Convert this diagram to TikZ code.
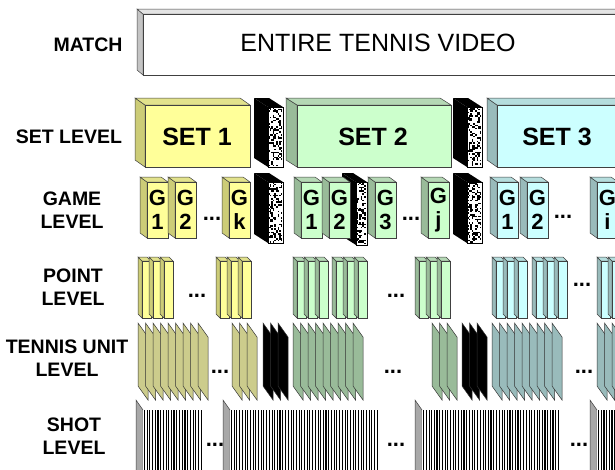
\documentclass[tikz,border=0pt]{standalone}
\usepackage{fontspec}
\setmainfont{Liberation Sans}
\usepackage{tikz}

\definecolor{yelF}{HTML}{FFFF99}
\definecolor{yelS}{HTML}{CCCC77}
\definecolor{yelT}{HTML}{E2E28C}
\definecolor{grnF}{HTML}{CCFFCC}
\definecolor{grnS}{HTML}{99BB99}
\definecolor{grnT}{HTML}{B5D8B5}
\definecolor{cyaF}{HTML}{CCFFFF}
\definecolor{cyaS}{HTML}{99BBBB}
\definecolor{cyaT}{HTML}{B5DDDD}
\definecolor{whtF}{HTML}{FFFFFF}
\definecolor{whtS}{HTML}{C4C4C4}
\definecolor{whtT}{HTML}{E4E4E4}
\definecolor{unitY}{HTML}{CCCC8C}
\definecolor{unitG}{HTML}{99BB99}
\definecolor{unitC}{HTML}{99BBBB}
\definecolor{shotS}{HTML}{A8A8A8}

\tikzstyle{edge}   = [draw=black!75, line width=0.5pt]
\tikzstyle{lvl}    = [font=\bfseries\fontsize{19.5}{23}\selectfont, align=center]
\tikzstyle{gtxt}   = [font=\bfseries\fontsize{22}{24}\selectfont, align=center, inner sep=0pt]
\tikzstyle{settxt} = [font=\bfseries\fontsize{25}{28}\selectfont]
\tikzstyle{dotsep} = [font=\bfseries\fontsize{22}{22}\selectfont, inner sep=0pt]

%% 3-D block: front x, front top, width, bottom, depth x, depth y, colour prefix
\newcommand{\tvblock}[7]{%
  \filldraw[edge, fill=#7S] (#1,#2) -- ++(#5,#6) -- ({#1+#5},{#4+#6}) -- (#1,#4) -- cycle;
  \filldraw[edge, fill=#7T] (#1,#2) -- ++(#5,#6) -- ({#1+#3+#5},{#2+#6}) -- ({#1+#3},#2) -- cycle;
  \filldraw[edge, fill=#7F] (#1,#2) rectangle ({#1+#3},#4);
}
%% black cut between sets: front x, front top, width, bottom
\newcommand{\tvcut}[4]{%
  \fill[black] (#1,#2) -- ++(-14,-9) -- ({#1-14},{#4-9}) -- (#1,#4) -- cycle;
  \fill[black] (#1,#2) -- ++(-14,-9) -- ({#1+#3-14},{#2-9}) -- ({#1+#3},#2) -- cycle;
  \fill[white] (#1,#2) rectangle ({#1+#3},#4);
  \pgfmathtruncatemacro\nr{(#4-#2)/1.6-1}
  \pgfmathtruncatemacro\nc{#3/1.6-1}
  \foreach \r in {0,...,\nr}{
    \foreach \c in {0,...,\nc}{
      \pgfmathsetmacro\sp{rnd}
      \ifdim\sp pt>0.62pt
        \fill[black] ({#1+1.6*\c},{#2+1.6*\r}) rectangle ++(1.6,1.6);
      \fi
    }}
  \draw[black, line width=0.6pt] (#1,#2) rectangle ({#1+#3},#4);
}
%% three point blocks
\newcommand{\tvpoints}[2]{%
  \foreach \k in {0,1,2}{
    \pgfmathsetmacro\px{#1+11*\k}
    \tvblock{\px}{261}{9}{318}{-4}{-4}{#2}
  }}
%% tennis unit sheets: first x, count, colour
\newcommand{\tvunits}[3]{%
  \foreach \k in {1,...,#2}{
    \pgfmathsetmacro\ux{#1+7.5*(\k-1)}
    \filldraw[fill=#3, draw=black!80, line width=0.5pt]
      (\ux,323) -- ++(10,14) -- ++(0,63) -- ++(-10,-14) -- cycle;
  }}
%% shot strip: front x start, front x end
\newcommand{\tvshots}[2]{%
  \filldraw[edge, fill=shotS] (#1,410) -- ++(-7,-10) -- ++(0,80) -- ++(7,10) -- cycle;
  \fill[white] (#1,410) rectangle (#2,480);
  \pgfmathtruncatemacro\nb{(#2-#1)/2.7}
  \foreach \k in {1,...,\nb}{
    \pgfmathsetmacro\bx{#1+2.7*\k-1.2}
    \pgfmathsetmacro\bw{0.45+rnd*1.0}
    \draw[black, line width=\bw pt] (\bx,410) -- (\bx,480);
  }}

\begin{document}
\begin{tikzpicture}[x=1pt, y=-1pt]
  \useasboundingbox (0,0) rectangle (615,469);
  \clip (0,0) rectangle (615,469);
  \pgfmathsetseed{11}

  %% Level names
  \node[lvl] (lmatch) at (88,45) {MATCH};
  \node[lvl] (lset)   at (69,137) {SET LEVEL};
  \node[lvl] (lgame)  at (72,210) {GAME\\LEVEL};
  \node[lvl] (lpoint) at (73,287) {POINT\\LEVEL};
  \node[lvl] (lunit)  at (67,358) {TENNIS UNIT\\LEVEL};
  \node[lvl] (lshot)  at (74,436) {SHOT\\LEVEL};

  %% Match
  \tvblock{143}{14}{490}{75}{-6}{-5}{wht}
  \node[font=\fontsize{25}{28}\selectfont] (video) at (378,43) {ENTIRE TENNIS VIDEO};

  %% Sets
  \tvcut{268}{107}{15}{167}
  \tvcut{467}{107}{15}{167}
  \tvblock{145}{105}{105}{167}{-10}{-7}{yel}
  \tvblock{297}{105}{154}{167}{-11}{-7}{grn}
  \tvblock{497}{105}{140}{167}{-10}{-7}{cya}
  \node[settxt] (set1) at (197,137) {SET 1};
  \node[settxt] (set2) at (373,137) {SET 2};
  \node[settxt] (set3) at (557,137) {SET 3};

  %% Games
  \tvcut{268}{182}{15}{243}
  \tvcut{356}{182}{11}{245}
  \tvcut{467}{182}{15}{243}
  \foreach \gx/\col/\gn in {147/yel/1, 175/yel/2, 229/yel/k,
                             301/grn/1, 329/grn/2, 375/grn/3, 428/grn/j,
                             497/cya/1, 527/cya/2, 597/cya/i}{
    \tvblock{\gx}{182}{21}{238}{-7}{-5}{\col}
    \node[gtxt] (g\col\gn) at (\gx+10.5,210) {G\\\gn};
  }
  \node[dotsep] (dgame1) at (212,219) {...};
  \node[dotsep] (dgame2) at (411,219) {...};
  \node[dotsep] (dgame3) at (563,217) {...};

  %% Points
  \tvpoints{142}{yel}
  \tvpoints{220}{yel}
  \tvpoints{297}{grn}
  \tvpoints{336}{grn}
  \tvpoints{419}{grn}
  \tvpoints{496}{cya}
  \tvpoints{536}{cya}
  \tvpoints{601}{cya}
  \node[dotsep] (dpoint1) at (197,296) {...};
  \node[dotsep] (dpoint2) at (396,296) {...};
  \node[dotsep] (dpoint3) at (582,285) {...};

  %% Tennis units
  \tvunits{138}{9}{unitY}
  \tvunits{232}{3}{unitY}
  \tvunits{263}{3}{black}
  \tvunits{293}{9}{unitG}
  \tvunits{432}{3}{unitG}
  \tvunits{462}{3}{black}
  \tvunits{492}{9}{unitC}
  \tvunits{597}{3}{unitC}
  \node[dotsep] (dunit1) at (220,372) {...};
  \node[dotsep] (dunit2) at (393,372) {...};
  \node[dotsep] (dunit3) at (584,372) {...};

  %% Shots
  \tvshots{143}{205}
  \tvshots{230}{380}
  \tvshots{422}{560}
  \tvshots{597}{625}
  \node[dotsep] (dshot1) at (215,445) {...};
  \node[dotsep] (dshot2) at (396,445) {...};
  \node[dotsep] (dshot3) at (579,445) {...};

\end{tikzpicture}
\end{document}
